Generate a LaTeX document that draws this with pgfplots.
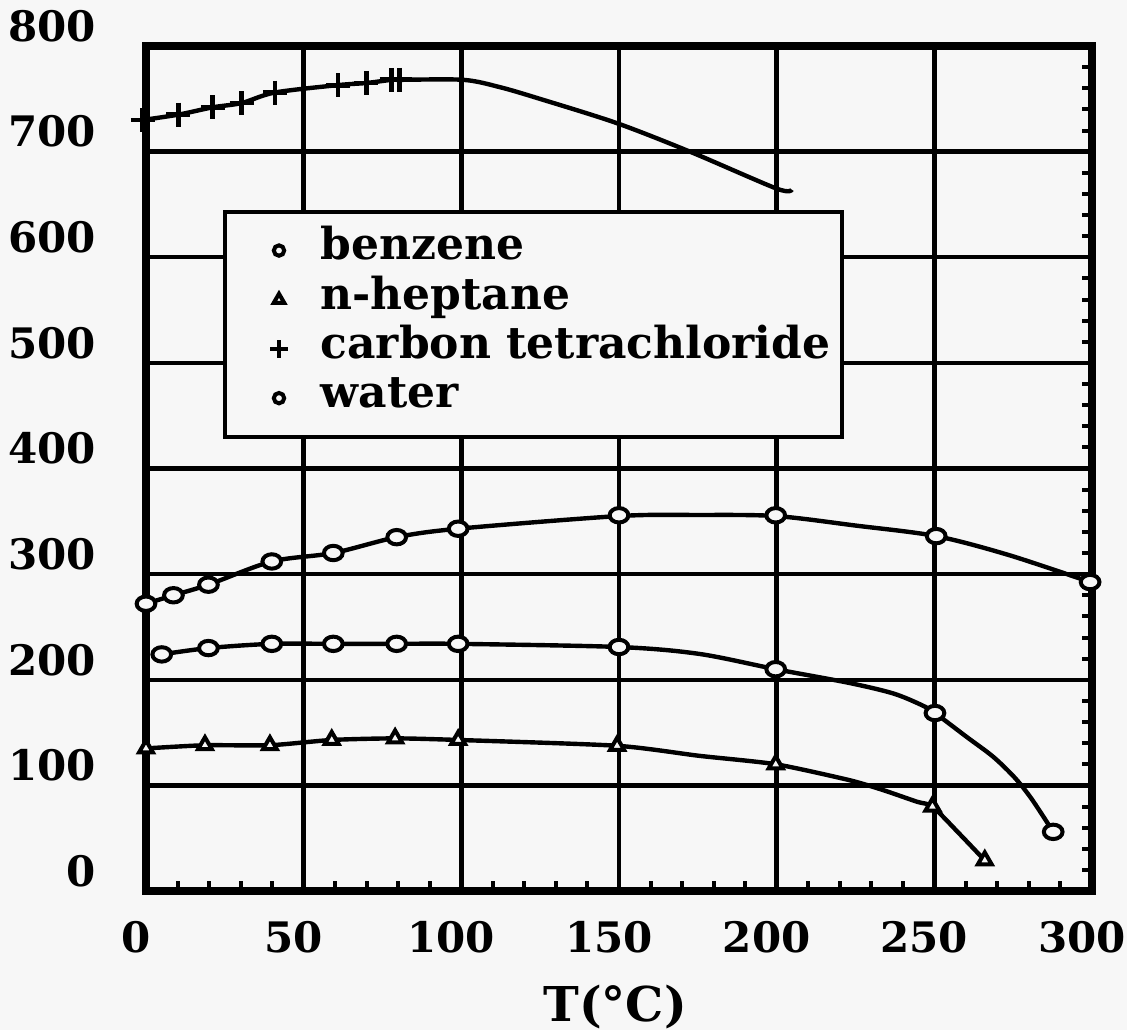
\documentclass[border=0pt]{standalone}
\usepackage{fontspec}
\setmainfont{DejaVu Serif}
\usepackage{pgfplots}
\pgfplotsset{compat=1.18}

\definecolor{paper}{gray}{0.97}

\begin{document}
\begin{tikzpicture}
\fill[paper] (-36.5pt,-34.75pt) rectangle (245.25pt,222.75pt);
\useasboundingbox (-36.5pt,-34.75pt) rectangle (245.25pt,222.75pt);
\begin{axis}[
    at={(0,0)}, anchor=south west,
    scale only axis,
    width=236.5pt, height=211.25pt,
    xmin=0, xmax=300, ymin=0, ymax=800,
    xtick={0,50,...,300},
    ytick={0,100,...,800},
    minor x tick num=4,
    minor y tick num=4,
    xtick pos=left, ytick pos=right, yticklabel pos=left,
    tick align=inside,
    major tick length=0pt,
    minor tick length=2.5pt,
    tick style={black, line width=1pt},
    grid=major,
    major grid style={black, line width=1.1pt},
    axis line style={black, line width=2.2pt},
    /pgf/number format/assume math mode=true,
    ticklabel style={font=\bfseries\fontsize{10.5}{12}\selectfont},
    yticklabel style={xshift=-9pt, yshift=5pt},
    xticklabel style={xshift=-2.5pt, yshift=-4pt},
    xlabel={T(°C)},
    xlabel style={font=\bfseries\fontsize{12}{14}\selectfont,
        at={(axis description cs:0.496,0)}, anchor=center, yshift=-29pt},
    legend style={at={(0.0814,0.806)}, anchor=north west,
        fill=paper, draw=black, line width=1pt,
        font=\bfseries\fontsize{11}{13}\selectfont,
        inner xsep=3pt, inner ysep=3.5pt, column sep=8.2pt,
        nodes={inner sep=0pt, text height=8.5pt, text depth=3.8pt}},
    legend cell align=left,
    legend image code/.code={\path (-4.5pt,0pt);
        \draw[mark repeat=2,mark phase=2,#1]
        plot coordinates {(0pt,0pt) (5.5pt,0pt) (11pt,0pt)};},
    clip=false,
]

% water
\addplot[black, line width=1.1pt, smooth, forget plot] coordinates {
    (0,272) (8.7,280) (19.8,290) (39.9,312) (59.4,320) (79.5,335) (99,343)
    (150,355) (175,356) (199.7,355) (225,346) (250.6,336) (273.7,318) (299.4,292.5)
};
\addplot[only marks, mark=*, mark size=1.8pt,
    mark options={fill=paper, draw=black, line width=1pt, xscale=1.3}, forget plot] coordinates {
    (0,272) (8.7,280) (19.8,290) (39.9,312) (59.4,320) (79.5,335) (99,343)
    (150,355.7) (199.7,355.7) (250.6,336) (299.4,292.5)
};

% benzene
\addplot[black, line width=1.1pt, smooth, tension=0.5, forget plot] coordinates {
    (5,224) (19.8,230) (39.9,234) (59.4,234) (79.5,234) (99,234) (150,231)
    (175.4,224.5) (199.7,210) (223,197) (237,187) (246,176) (250.2,168.5)
    (260.2,146) (268.7,127) (275.6,107) (280.9,87) (287.7,56)
};
\addplot[only marks, mark=*, mark size=1.8pt,
    mark options={fill=paper, draw=black, line width=1pt, xscale=1.3}, forget plot] coordinates {
    (5,224) (19.8,230) (39.9,234) (59.4,234) (79.5,234) (99,234) (150,231)
    (199.7,210) (250.2,168.5) (287.7,56)
};

% n-heptane
\addplot[black, line width=1.1pt, smooth, tension=0.4, forget plot] coordinates {
    (0,135) (18.7,138) (39.3,138) (58.9,143) (79,144.5) (99,143) (149.4,137.5)
    (175.4,128) (199.7,120) (223,105) (233.7,95.6) (244.5,84.5) (249.4,80)
    (257.7,55) (266,29)
};
\addplot[only marks, mark=triangle*, mark size=2pt,
    mark options={fill=paper, draw=black, line width=1pt}, forget plot] coordinates {
    (0,135) (18.7,138) (39.3,138) (58.9,143) (79,144.5) (99,143) (149.4,137.5)
    (199.7,120) (249.4,80) (266,29)
};

% carbon tetrachloride
\addplot[black, line width=1.1pt, smooth, forget plot] coordinates {
    (-1,730) (10.2,735) (21.2,742) (30.3,746) (40.9,756) (60.9,763) (69.9,765)
    (77.9,768) (80.5,768) (100.6,768) (112.3,761) (124.9,750) (149.3,727)
    (172.5,700) (200,665) (204.8,664)
};
\addplot[only marks, mark=+, mark size=3pt,
    mark options={draw=black, line width=1.2pt}, forget plot] coordinates {
    (-1,730) (10.2,735) (21.2,742) (30.3,746) (40.9,756) (60.9,763) (69.9,765)
    (77.9,768) (80.5,768)
};

\addlegendimage{only marks, mark=*, mark size=1.3pt,
    mark options={fill=paper, draw=black, line width=1pt}}
\addlegendentry{benzene}
\addlegendimage{only marks, mark=triangle*, mark size=1.5pt,
    mark options={fill=paper, draw=black, line width=1pt}}
\addlegendentry{n-heptane}
\addlegendimage{only marks, mark=+, mark size=2.2pt,
    mark options={draw=black, line width=1pt}}
\addlegendentry{carbon tetrachloride}
\addlegendimage{only marks, mark=*, mark size=1.3pt,
    mark options={fill=paper, draw=black, line width=1pt}}
\addlegendentry{water}

\end{axis}
\end{tikzpicture}
\end{document}
